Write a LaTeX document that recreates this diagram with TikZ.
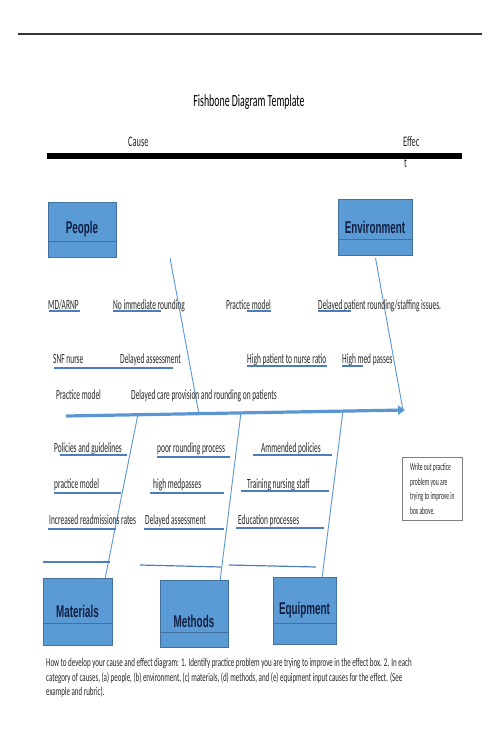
\documentclass[tikz,border=0pt]{standalone}
\usepackage{fontspec}
\setmainfont{Carlito}[FakeStretch=0.58]
\newfontfamily\lblfont{Carlito}[FakeStretch=0.53]
\newfontfamily\catfont{Liberation Sans}[FakeStretch=0.58]
\usetikzlibrary{arrows.meta,positioning,calc}

\definecolor{boxblue}{RGB}{91,155,213}
\definecolor{boxedge}{RGB}{65,113,156}
\definecolor{boxink}{RGB}{18,32,66}
\definecolor{boneblue}{RGB}{91,150,210}
\definecolor{ulblue}{RGB}{74,126,190}

\tikzset{
  catbox/.style={draw=boxedge, fill=boxblue, inner sep=0pt, text=boxink,
    font=\catfont\bfseries\fontsize{17}{20}\selectfont},
  lbl/.style={anchor=base west, inner sep=0pt, text=black!85,
    font=\lblfont\fontsize{14}{16}\selectfont},
  capline/.style={anchor=base west, inner sep=0pt, text=black!85,
    font=\fontsize{12}{14.5}\selectfont},
  uline/.style={draw=ulblue, line width=1.2pt},
  bone/.style={draw=boneblue, line width=0.9pt},
  spine/.style={draw=boneblue, line width=3.2pt,
    -{Triangle[length=7pt,width=9pt]}},
}

\begin{document}
\begin{tikzpicture}[x=1pt, y=-1pt]

  \useasboundingbox (0,0) rectangle (500,750);

  % ============================================================
  % HEADER — rule, title, cause / effect bar
  % ============================================================
  \draw[black!80, line width=1.2pt] (18,34) -- (482,34);

  \node[font=\fontsize{17}{20}\selectfont] (title) at (249,102)
        {Fishbone Diagram Template};

  \node[lbl, font=\fontsize{14.5}{17}\selectfont] (cause)  at (128,146) {Cause};
  \node[lbl, font=\fontsize{14.5}{17}\selectfont] (effect) at (403,146) {Effec};
  \node[lbl, font=\fontsize{14.5}{17}\selectfont] (effectt) at (404,167) {t};

  \draw[black, line width=5.5pt] (47,156) -- (462,156);

  % ============================================================
  % CATEGORY BOXES
  % ============================================================
  \node[catbox, minimum width=68pt, minimum height=55pt] (people) at (82,229.5) {People};
  \node[catbox, minimum width=74pt, minimum height=56pt] (env)    at (375,227)  {Environment};
  \node[catbox, minimum width=69pt, minimum height=67pt] (mat)    at (77.5,611.5) {Materials};
  \node[catbox, minimum width=68pt, minimum height=67pt,
        text height=27.4pt]                              (meth)   at (194,613.5) {Methods};
  \node[catbox, minimum width=63pt, minimum height=67pt] (equip)  at (304.5,610.5) {Equipment};

  % dividing line inside each box (height above the bottom edge)
  \foreach \b/\h in {people/16, env/16, mat/22, meth/15, equip/21}
    \draw[boxedge] ([yshift=\h pt]\b.south west) -- ([yshift=\h pt]\b.south east);

  % ============================================================
  % SPINE AND BONES
  % ============================================================
  \coordinate (tail) at (66,416);
  \coordinate (head) at (405,410);
  \draw[spine] (tail) -- (head);

  \coordinate (sppl) at ($(tail)!0.392!(head)$);
  \coordinate (spenv) at ($(tail)!0.994!(head)$);
  \coordinate (spmat) at ($(tail)!0.212!(head)$);
  \coordinate (spmeth) at ($(tail)!0.516!(head)$);
  \coordinate (spequip) at ($(tail)!0.817!(head)$);
  \coordinate (pplbone) at (170,258);

  \draw[bone] (pplbone) -- (sppl);
  \draw[bone, shorten <=3pt] (env.south) -- (spenv);
  \draw[bone] (spmat) -- ([xshift=-7pt]mat.north east);
  \draw[bone] (spmeth) -- ([xshift=-8pt]meth.north east);
  \draw[bone] (spequip) -- ([xshift=-14pt]equip.north east);

  % ============================================================
  % CAUSES — above the spine
  % ============================================================
  \node[lbl] (mdarnp)   at (48,309)  {MD/ARNP};
  \node[lbl] (noround)  at (113,309) {No immediate rounding};
  \node[lbl] (pmodela)  at (226,309) {Practice model};
  \node[lbl] (staffing) at (318,309) {Delayed patient rounding/staffing issues.};

  \node[lbl] (snf)      at (53,363)  {SNF nurse};
  \node[lbl] (dassa)    at (120,363) {Delayed assessment};
  \node[lbl] (ratio)    at (247,363) {High patient to nurse ratio};
  \node[lbl] (medpass)  at (342,363) {High med passes};

  \node[lbl] (pmodelb)  at (56,399)  {Practice model};
  \node[lbl] (delcare)  at (131,399) {Delayed care provision and rounding on patients};

  % ============================================================
  % CAUSES — below the spine
  % ============================================================
  \node[lbl] (policies) at (54,452)  {Policies and guidelines};
  \node[lbl] (poorrnd)  at (157,452) {poor rounding process};
  \node[lbl] (ammend)   at (261,452) {Ammended policies};

  \node[lbl] (pmodelc)  at (54,488)  {practice model};
  \node[lbl] (highmed)  at (153,488) {high medpasses};
  \node[lbl] (training) at (247,488) {Training nursing staff};

  \node[lbl] (readmit)  at (49,524)  {Increased readmissions rates};
  \node[lbl] (dassb)    at (145,524) {Delayed assessment};
  \node[lbl] (educ)     at (238,524) {Education processes};

  % underlines (x1/y1/x2/y2)
  \foreach \xa/\ya/\xb/\yb in {
      49/311/80/311,   113/311/161/311, 247/311/271/311, 318/311/351/311,
      54/368/173/368,  247/366/327/366, 342/366/363/366,
      60/455/127/455,  157/457/230/457, 253/455/332/455,
      54/493/121/493,  150/493/224/493, 241/491/329/491,
      48/529/116/529,  144/529/224/529, 236/528/324/528,
      43/562/110/562,  140/565/221/567, 229/565/316/567
  }{
    \draw[uline] (\xa,\ya) -- (\xb,\yb);
  }

  % ============================================================
  % PROBLEM BOX AND NOTE
  % ============================================================
  \node[draw=black!50, line width=0.8pt, minimum width=60pt, minimum height=63pt,
        anchor=north west, align=left, inner sep=3pt, text=black!85,
        font=\lblfont\fontsize{10.5}{14.7}\selectfont] (probbox) at (402,457)
        {Write out practice\\problem you are\\trying to improve in\\box above.};

  \node[capline] (capa) at (46,666) {How to develop your cause and effect diagram: 1. Identify practice problem you are trying to improve in the effect box. 2. In each};
  \node[capline] (capb) at (46,681) {category of causes, (a) people, (b) environment, (c) materials, (d) methods, and (e) equipment input causes for the effect. (See};
  \node[capline] (capc) at (46,695) {example and rubric).};

\end{tikzpicture}
\end{document}
